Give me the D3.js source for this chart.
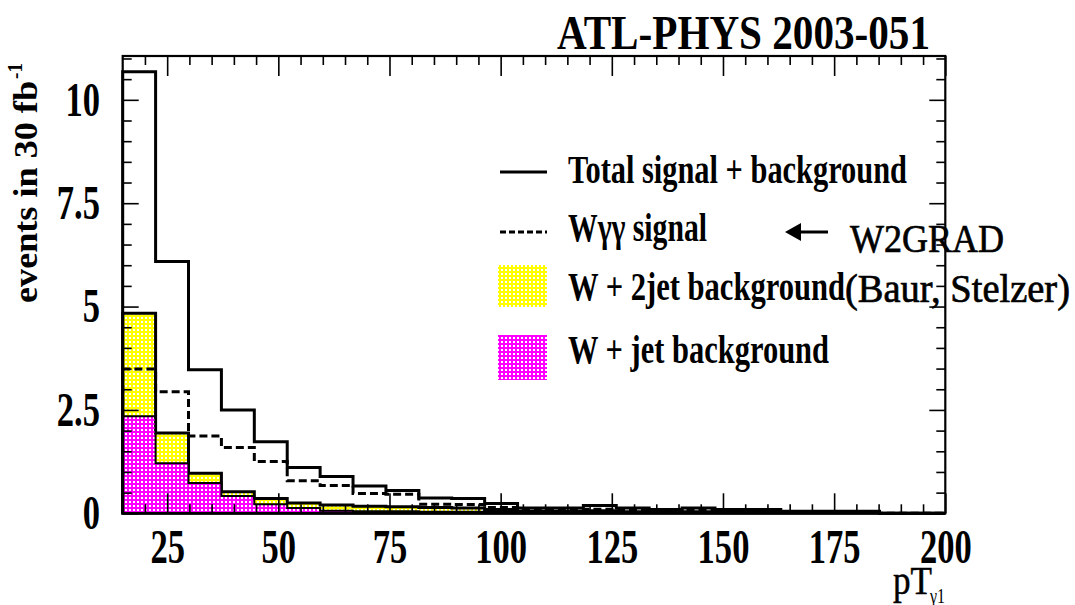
<!DOCTYPE html>
<html>
<head>
<meta charset="utf-8">
<script src="https://cdn.jsdelivr.net/npm/d3@7"></script>
<style>
  html, body { margin: 0; padding: 0; background: #fff; }
  svg { display: block; }
  text { font-family: "Liberation Serif", "DejaVu Serif", serif; fill: #000; }
</style>
</head>
<body>
<svg id="chart" width="1075" height="605"></svg>
<script>
// ---------------- data ----------------
const binEdges = [15, 22.4, 29.8, 37.2, 44.6, 52, 59.4, 66.8, 74.2, 81.6, 89, 96.4, 103.8,
  111.2, 118.6, 126, 133.4, 140.8, 148.2, 155.6, 163, 170.4, 177.8, 185.2, 192.6, 200];
const totalSB = [10.68, 6.09, 3.47, 2.50, 1.73, 1.11, 0.89, 0.66, 0.55, 0.37, 0.36, 0.24, 0.13,
  0.13, 0.19, 0.13, 0.09, 0.13, 0.09, 0.09, 0.05, 0.05, 0.05, 0, 0];
const signalWgg = [3.49, 2.94, 1.87, 1.59, 1.25, 0.79, 0.67, 0.48, 0.46, 0.22, 0.21, 0.14, 0.09,
  0.09, 0.10, 0.09, 0.06, 0.09, 0.06, 0.06, 0.03, 0.03, 0.03, 0, 0];
const bgW2jet = [4.84, 1.94, 0.97, 0.52, 0.36, 0.25, 0.20, 0.17, 0.16, 0.14, 0.13, 0.09, 0.05,
  0.05, 0.06, 0.04, 0.03, 0.04, 0.03, 0.03, 0.02, 0.02, 0.02, 0, 0];
const bgWjet = [2.35, 1.21, 0.73, 0.42, 0.22, 0.13, 0.06, 0.05, 0.05, 0.04, 0.04, 0.03, 0,
  0, 0, 0, 0, 0, 0, 0, 0, 0, 0, 0, 0];
const xMajorTicks = [25, 50, 75, 100, 125, 150, 175, 200];
const xMinorTicks = [20, 30, 35, 40, 45, 55, 60, 65, 70, 80, 85, 90, 95, 105, 110, 115, 120,
  130, 135, 140, 145, 155, 160, 165, 170, 180, 185, 190, 195];
const yMajorTicks = [0, 2.5, 5, 7.5, 10];
const yMinorTicks = [0.5, 1, 1.5, 2, 3, 3.5, 4, 4.5, 5.5, 6, 6.5, 7, 8, 8.5, 9, 9.5, 10.5, 11];
const legendLabels = ["Total signal + background", "W\u03B3\u03B3 signal",
  "W + 2jet background", "W + jet background"];
const titleText = "ATL-PHYS 2003-051";

// ---------------- setup ----------------
const svg = d3.select("#chart");
const x = d3.scaleLinear().domain([15, 200]).range([122.7, 945.3]);
const y = d3.scaleLinear().domain([0, 11.06]).range([513.3, 56]);

function fit(sel, factor) {
  sel.each(function () {
    const len = this.getComputedTextLength();
    d3.select(this).attr("textLength", len * factor).attr("lengthAdjust", "spacingAndGlyphs");
  });
}
function fitTo(sel, width) {
  sel.attr("textLength", width).attr("lengthAdjust", "spacingAndGlyphs");
}

// patterns
const defs = svg.append("defs");
function dotPattern(id, color) {
  const p = defs.append("pattern").attr("id", id).attr("patternUnits", "userSpaceOnUse")
    .attr("width", 4).attr("height", 4);
  p.append("path").attr("d", "M0,0h4v4h-4z M1,1h2v2h-2z")
    .attr("fill", color).attr("fill-rule", "evenodd");
}
dotPattern("patY", "#ffff00");
dotPattern("patM", "#ff00ff");

function stepPoints(vals) {
  const pts = [[binEdges[0], 0]];
  vals.forEach((v, i) => { pts.push([binEdges[i], v]); pts.push([binEdges[i + 1], v]); });
  pts.push([binEdges[binEdges.length - 1], 0]);
  return pts;
}
const line = d3.line().x(d => x(d[0])).y(d => y(d[1]));

const plot = svg.append("g");
// W + 2jet (yellow)
plot.append("path").attr("d", line(stepPoints(bgW2jet)) + "Z")
  .attr("fill", "url(#patY)").attr("stroke", "#000").attr("stroke-width", 3);
// W + jet (magenta)
plot.append("path").attr("d", line(stepPoints(bgWjet)) + "Z")
  .attr("fill", "url(#patM)").attr("stroke", "#000").attr("stroke-width", 2);
// signal (dashed)
plot.append("path").attr("d", line(stepPoints(signalWgg)))
  .attr("fill", "none").attr("stroke", "#000").attr("stroke-width", 3)
  .attr("stroke-dasharray", "8,4");
// total (solid)
plot.append("path").attr("d", line(stepPoints(totalSB)))
  .attr("fill", "none").attr("stroke", "#000").attr("stroke-width", 3);

// ---------------- legend ----------------
const leg = svg.append("g");
leg.append("line").attr("x1", 500).attr("x2", 547).attr("y1", 172).attr("y2", 172)
  .attr("stroke", "#000").attr("stroke-width", 3);
leg.append("line").attr("x1", 500).attr("x2", 547).attr("y1", 232).attr("y2", 232)
  .attr("stroke", "#000").attr("stroke-width", 3).attr("stroke-dasharray", "6,3");
leg.append("rect").attr("x", 498).attr("y", 265).attr("width", 49).attr("height", 42)
  .attr("fill", "url(#patY)");
leg.append("rect").attr("x", 498).attr("y", 335).attr("width", 49).attr("height", 45)
  .attr("fill", "url(#patM)");
const legY = [183, 241, 300, 363];
const legW = [339, 139, 277, 261];
legendLabels.forEach((t, i) => {
  leg.append("text").attr("x", 568).attr("y", legY[i]).attr("font-size", 40)
    .attr("font-weight", "bold").text(t).call(fitTo, legW[i]);
});
leg.append("text").attr("x", 845).attr("y", 302).attr("font-size", 40)
  .attr("stroke", "#000").attr("stroke-width", 0.7)
  .text("(Baur, Stelzer)").call(fitTo, 225);
// arrow + W2GRAD
leg.append("line").attr("x1", 797).attr("x2", 828).attr("y1", 232).attr("y2", 232)
  .attr("stroke", "#000").attr("stroke-width", 3);
leg.append("path").attr("d", "M785,232 L801,223 L801,241 Z").attr("fill", "#000");
leg.append("text").attr("x", 850).attr("y", 252).attr("font-size", 40)
  .attr("stroke", "#000").attr("stroke-width", 0.7)
  .text("W2GRAD").call(fitTo, 154);

// ---------------- frame + axes ----------------
const axStyle = g => {
  g.select(".domain").remove();
  g.selectAll(".tick line").attr("stroke", "#000").attr("stroke-width", 1.6);
};
svg.append("g").attr("transform", `translate(0,${y(0)})`)
  .call(d3.axisBottom(x).tickValues(xMinorTicks).tickSize(-9).tickFormat("")).call(axStyle);
const gxb = svg.append("g").attr("transform", `translate(0,${y(0)})`)
  .call(d3.axisBottom(x).tickValues(xMajorTicks).tickSize(-20).tickPadding(16)
    .tickFormat(d3.format("d"))).call(axStyle);
gxb.selectAll("text").attr("font-size", 48).attr("font-weight", "bold")
  .attr("font-family", "Liberation Serif, serif").call(fit, 0.72);
svg.append("g").attr("transform", `translate(0,${y(11.06)})`)
  .call(d3.axisTop(x).tickValues(xMinorTicks).tickSize(-9).tickFormat("")).call(axStyle);
svg.append("g").attr("transform", `translate(0,${y(11.06)})`)
  .call(d3.axisTop(x).tickValues(xMajorTicks).tickSize(-20).tickFormat("")).call(axStyle);

svg.append("g").attr("transform", `translate(${x(15)},0)`)
  .call(d3.axisLeft(y).tickValues(yMinorTicks).tickSize(-9).tickFormat("")).call(axStyle);
const gyl = svg.append("g").attr("transform", `translate(${x(15)},0)`)
  .call(d3.axisLeft(y).tickValues(yMajorTicks).tickSize(-16).tickPadding(22.7)
    .tickFormat(d => String(d))).call(axStyle);
gyl.selectAll("text").attr("font-size", 48).attr("font-weight", "bold")
  .attr("font-family", "Liberation Serif, serif").call(fit, 0.72);
svg.append("g").attr("transform", `translate(${x(200)},0)`)
  .call(d3.axisRight(y).tickValues(yMinorTicks).tickSize(-9).tickFormat("")).call(axStyle);
svg.append("g").attr("transform", `translate(${x(200)},0)`)
  .call(d3.axisRight(y).tickValues(yMajorTicks).tickSize(-16).tickFormat("")).call(axStyle);

svg.append("rect").attr("x", x(15)).attr("y", y(11.06))
  .attr("width", x(200) - x(15)).attr("height", y(0) - y(11.06))
  .attr("fill", "none").attr("stroke", "#000").attr("stroke-width", 2.2);

// ---------------- titles ----------------
svg.append("text").attr("x", 557).attr("y", 49).attr("font-size", 48)
  .attr("font-weight", "bold").text(titleText).call(fitTo, 373);

svg.append("text").attr("transform", "translate(37,303) rotate(-90)")
  .attr("font-size", 34).attr("font-weight", "bold").text("events in 30 fb")
  .call(fitTo, 222);
svg.append("text").attr("transform", "translate(22,79) rotate(-90)")
  .attr("font-size", 20).attr("font-weight", "bold").text("-1").call(fitTo, 16);

svg.append("text").attr("x", 893).attr("y", 594).attr("font-size", 40)
  .attr("stroke", "#000").attr("stroke-width", 0.5)
  .text("pT").call(fitTo, 39);
svg.append("text").attr("x", 930).attr("y", 603).attr("font-size", 20)
  .text("\u03B31").call(fitTo, 15);
</script>
</body>
</html>
